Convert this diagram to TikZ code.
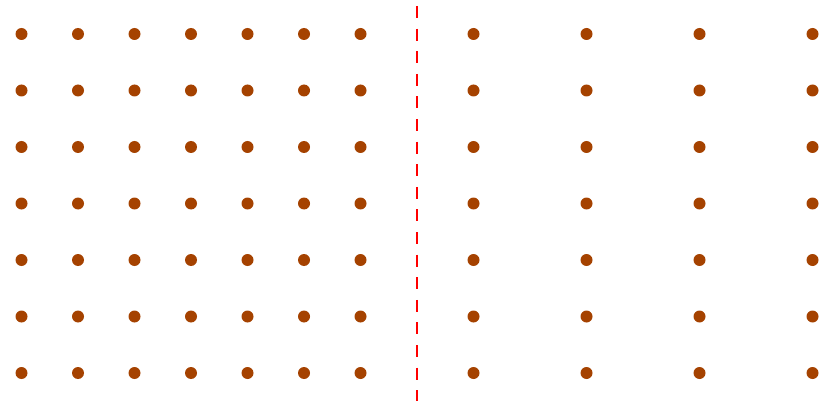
\documentclass[tikz,border=0pt]{standalone}
\definecolor{dotc}{RGB}{165,66,0}
\begin{document}
\begin{tikzpicture}[x=1pt,y=-1pt,
  gdot/.style={circle,fill=dotc,inner sep=0pt,minimum size=12pt},
  sep/.style={red,line width=2pt,dash pattern=on 12pt off 10.6pt}]
\useasboundingbox (0,0) rectangle (825,401);
\foreach \r [count=\j] in {34,90.5,147,203.5,260,316.5,373}{
  \foreach \c [count=\i] in {21.5,78,134.5,191,247.5,304,360.5}{
    \node[gdot] (L\i-\j) at (\c,\r) {};
  }
  \foreach \c [count=\i] in {473.5,586.5,699.5,812.5}{
    \node[gdot] (R\i-\j) at (\c,\r) {};
  }
}
\coordinate (top) at (417,6);
\coordinate (bot) at (417,401);
\draw[sep] (top) -- (bot);
\end{tikzpicture}
\end{document}
